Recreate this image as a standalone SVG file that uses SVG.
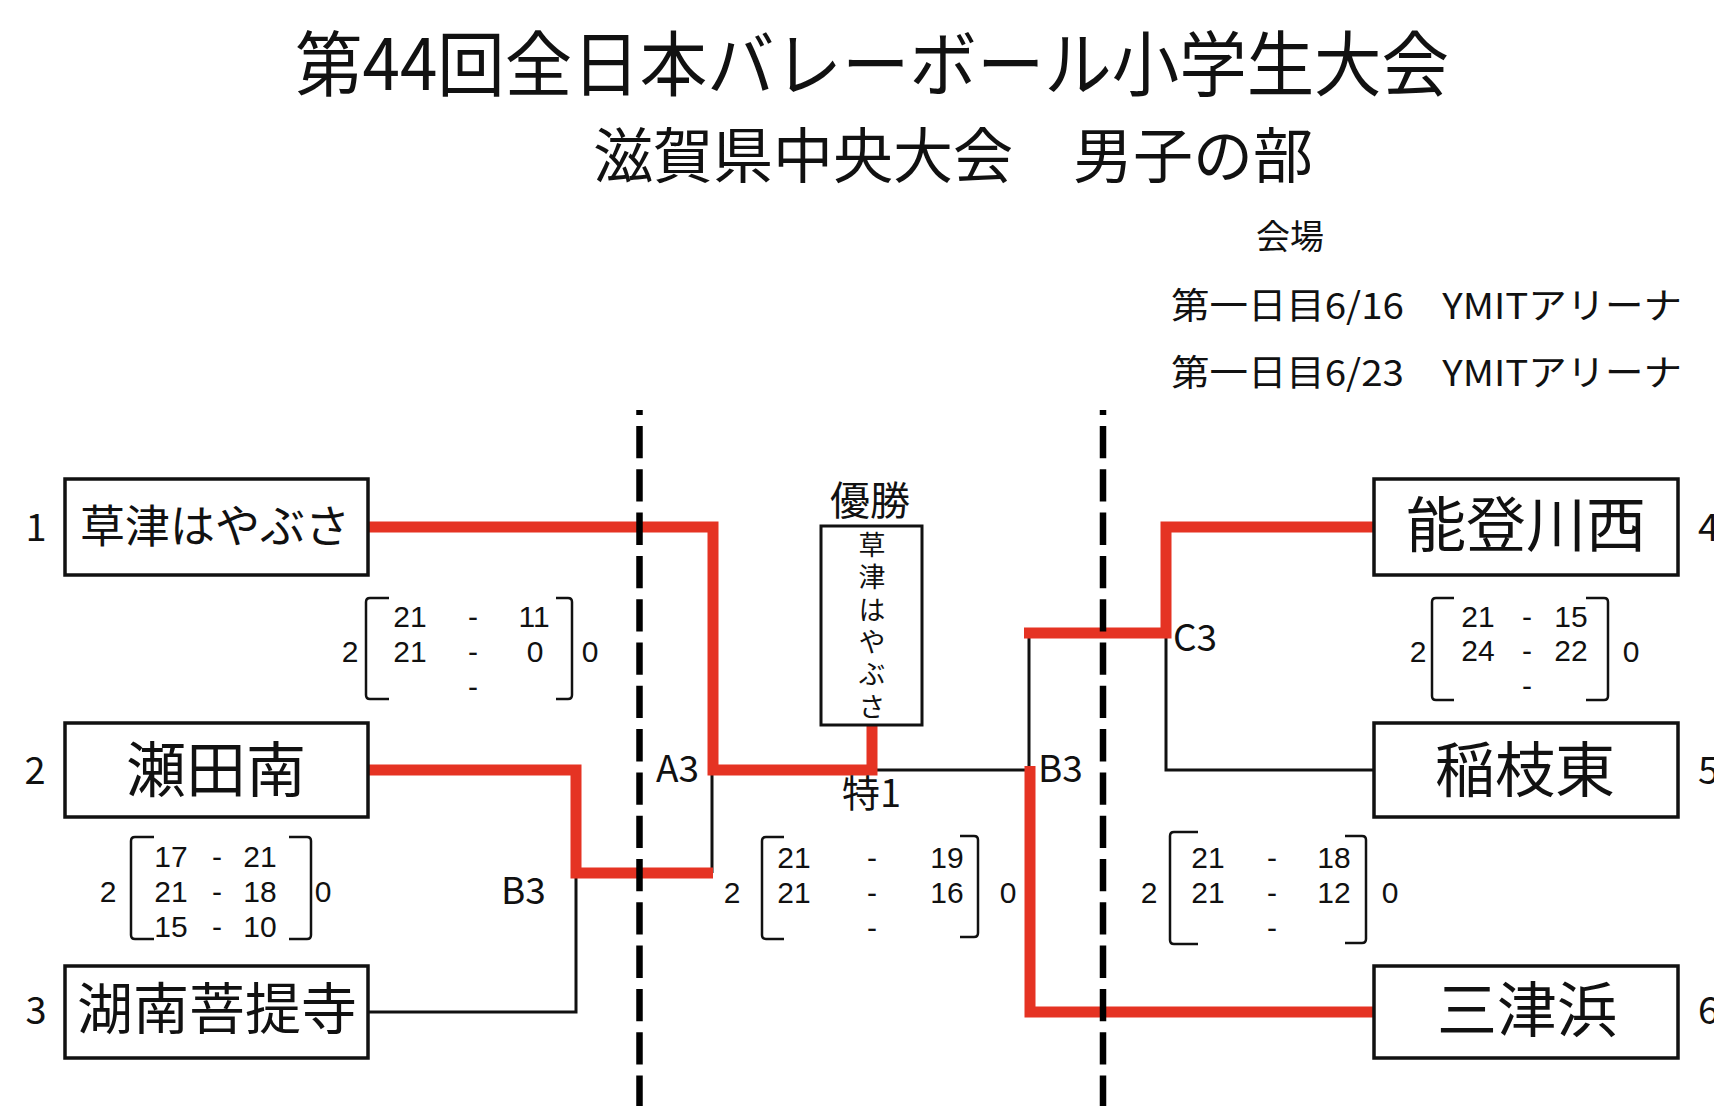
<svg xmlns="http://www.w3.org/2000/svg" width="1714" height="1111" viewBox="0 0 1714 1111">
<style>
text{font-family:"Noto Sans CJK JP","Noto Sans",sans-serif;fill:#111}
.box{fill:#fff;stroke:#111;stroke-width:3.5}
.name{text-anchor:middle}
.num{font-size:38px;text-anchor:middle}
.lbl{font-size:37px}
.sc{font-family:"Liberation Sans","Noto Sans",sans-serif;font-size:30px;text-anchor:middle}
.br{fill:none;stroke:#111;stroke-width:2.5}
.blk{fill:none;stroke:#111;stroke-width:3;stroke-linejoin:miter}
.red{fill:none;stroke:#e53323;stroke-width:11;stroke-linejoin:miter}
.dash{stroke:#000;stroke-width:6.5;stroke-dasharray:32.3 11;stroke-dashoffset:27.3}
</style>
<g id="title">
<text x="295" y="90" font-size="71" textLength="1154" lengthAdjust="spacingAndGlyphs">第44回全日本バレーボール小学生大会</text>
<text x="593" y="178" font-size="60">滋賀県中央大会　男子の部</text>
<text x="1256" y="249" font-size="34">会場</text>
<text x="1171" y="319" font-size="36" textLength="511" lengthAdjust="spacingAndGlyphs">第一日目6/16　YMITアリーナ</text>
<text x="1171" y="386" font-size="36" textLength="511" lengthAdjust="spacingAndGlyphs">第一日目6/23　YMITアリーナ</text>
</g>
<g id="connectors">
<path class="blk" d="M368,1012 H576 V873"/>
<path class="blk" d="M712,770 V873"/>
<path class="blk" d="M872,770 H1029 V633"/>
<path class="blk" d="M1166,633 V770 H1374"/>
<path class="red" d="M368,527 H713 V770 H872 V725"/>
<path class="red" d="M368,770 H576 V873 H713"/>
<path class="red" d="M1030,766 V1012 H1374"/>
<path class="red" d="M1024,633 H1166 V527 H1374"/>
</g>
<g id="dividers">
<line class="dash" x1="639.5" y1="410" x2="639.5" y2="1106"/>
<line class="dash" x1="1103" y1="410" x2="1103" y2="1106"/>
</g>
<g id="team1">
<rect class="box" x="65" y="479" width="303" height="96"/>
<text class="name" x="215" y="543" font-size="45">草津はやぶさ</text>
<text class="num" x="36" y="541">1</text>
</g>
<g id="team2">
<rect class="box" x="65" y="723" width="303" height="94"/>
<text class="name" x="216" y="792" font-size="60">瀬田南</text>
<text class="num" x="35" y="784">2</text>
</g>
<g id="team3">
<rect class="box" x="65" y="966" width="303" height="92"/>
<text class="name" x="217" y="1029" font-size="56">湖南菩提寺</text>
<text class="num" x="36" y="1024">3</text>
</g>
<g id="team4">
<rect class="box" x="1374" y="479" width="304" height="96"/>
<text class="name" x="1526" y="547" font-size="60">能登川西</text>
<text x="1698" y="541" font-size="38">4</text>
</g>
<g id="team5">
<rect class="box" x="1374" y="723" width="304" height="94"/>
<text class="name" x="1525" y="792" font-size="60">稲枝東</text>
<text x="1698" y="784" font-size="38">5</text>
</g>
<g id="team6">
<rect class="box" x="1374" y="966" width="304" height="92"/>
<text class="name" x="1527" y="1032" font-size="60">三津浜</text>
<text x="1698" y="1024" font-size="38">6</text>
</g>
<g id="champion">
<text x="870" y="515" font-size="40" text-anchor="middle">優勝</text>
<rect x="821" y="526" width="101" height="199" fill="#fff" stroke="#111" stroke-width="3"/>
<text x="872" y="531" font-size="27" writing-mode="vertical-rl" letter-spacing="5.4">草津はやぶさ</text>
</g>
<g id="labels">
<text class="lbl" x="656" y="782">A3</text>
<text class="lbl" x="501" y="904">B3</text>
<text class="lbl" x="1038" y="782">B3</text>
<text class="lbl" x="1173" y="651">C3</text>
<text x="842" y="807" font-size="38">特1</text>
</g>
<g id="score1">
<text class="sc" x="350" y="662">2</text>
<path class="br" d="M389,598 H370 Q366,598 366,602 V695 Q366,699 370,699 H389"/>
<text class="sc" x="410" y="627">21</text><text class="sc" x="473" y="627">-</text><text class="sc" x="534" y="627">11</text>
<text class="sc" x="410" y="662">21</text><text class="sc" x="473" y="662">-</text><text class="sc" x="535" y="662">0</text>
<text class="sc" x="473" y="697">-</text>
<path class="br" d="M556,598 H568 Q572,598 572,602 V695 Q572,699 568,699 H556"/>
<text class="sc" x="590" y="662">0</text>
</g>
<g id="score2">
<text class="sc" x="108" y="902">2</text>
<path class="br" d="M154,837 H135 Q131,837 131,841 V935 Q131,939 135,939 H154"/>
<text class="sc" x="171" y="867">17</text><text class="sc" x="217" y="867">-</text><text class="sc" x="260" y="867">21</text>
<text class="sc" x="171" y="902">21</text><text class="sc" x="217" y="902">-</text><text class="sc" x="260" y="902">18</text>
<text class="sc" x="171" y="937">15</text><text class="sc" x="217" y="937">-</text><text class="sc" x="260" y="937">10</text>
<path class="br" d="M289,837 H307 Q311,837 311,841 V935 Q311,939 307,939 H289"/>
<text class="sc" x="323" y="902">0</text>
</g>
<g id="score3">
<text class="sc" x="732" y="903">2</text>
<path class="br" d="M784,837 H766 Q762,837 762,841 V935 Q762,939 766,939 H784"/>
<text class="sc" x="794" y="868">21</text><text class="sc" x="872" y="868">-</text><text class="sc" x="947" y="868">19</text>
<text class="sc" x="794" y="903">21</text><text class="sc" x="872" y="903">-</text><text class="sc" x="947" y="903">16</text>
<text class="sc" x="872" y="938">-</text>
<path class="br" d="M960,836 H974 Q978,836 978,840 V933 Q978,937 974,937 H960"/>
<text class="sc" x="1008" y="903">0</text>
</g>
<g id="score4">
<text class="sc" x="1149" y="903">2</text>
<path class="br" d="M1198,832 H1174 Q1170,832 1170,836 V940 Q1170,944 1174,944 H1198"/>
<text class="sc" x="1208" y="868">21</text><text class="sc" x="1272" y="868">-</text><text class="sc" x="1334" y="868">18</text>
<text class="sc" x="1208" y="903">21</text><text class="sc" x="1272" y="903">-</text><text class="sc" x="1334" y="903">12</text>
<text class="sc" x="1272" y="938">-</text>
<path class="br" d="M1345,836 H1362 Q1366,836 1366,840 V939 Q1366,943 1362,943 H1345"/>
<text class="sc" x="1390" y="903">0</text>
</g>
<g id="score5">
<text class="sc" x="1418" y="662">2</text>
<path class="br" d="M1454,598 H1436 Q1432,598 1432,602 V696 Q1432,700 1436,700 H1454"/>
<text class="sc" x="1478" y="627">21</text><text class="sc" x="1527" y="627">-</text><text class="sc" x="1571" y="627">15</text>
<text class="sc" x="1478" y="661">24</text><text class="sc" x="1527" y="661">-</text><text class="sc" x="1571" y="661">22</text>
<text class="sc" x="1527" y="696">-</text>
<path class="br" d="M1586,598 H1604 Q1608,598 1608,602 V696 Q1608,700 1604,700 H1586"/>
<text class="sc" x="1631" y="662">0</text>
</g>
</svg>
